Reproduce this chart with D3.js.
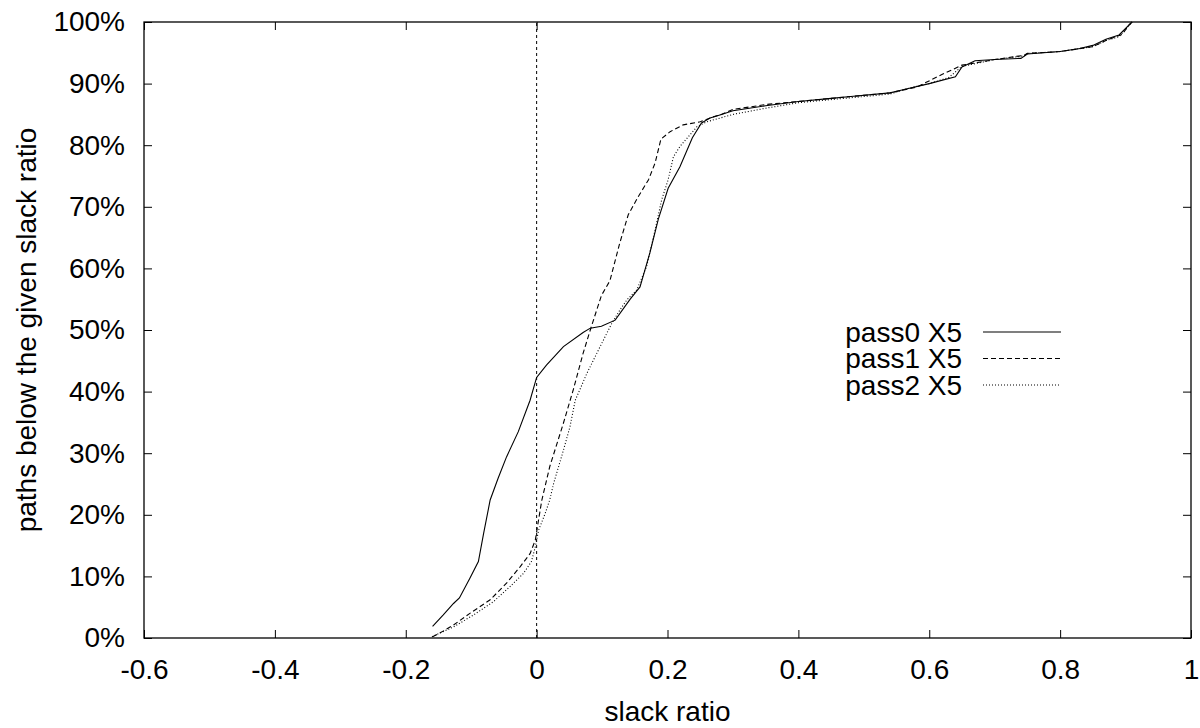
<!DOCTYPE html>
<html lang="en">
<head>
    <meta charset="UTF-8">
    <title>Slack ratio distribution</title>
    <script src="https://d3js.org/d3.v7.min.js"></script>
    <style>
        body {
            margin: 0;
            background: #fff;
            font-family: "Liberation Sans", Arial, sans-serif;
        }
        svg { display: block; }
    </style>
</head>
<body>
    <svg width="1200" height="728"></svg>

    <script>
        // [slack ratio, % of paths]
        const pass0 = [
            [-0.159, 1.9], [-0.143, 3.7], [-0.127, 5.6], [-0.118, 6.5], [-0.102, 9.7],
            [-0.089, 12.4], [-0.081, 17.0], [-0.071, 22.4], [-0.059, 25.9], [-0.046, 29.4],
            [-0.028, 33.5], [-0.010, 38.6], [0.0, 42.3], [0.015, 44.3], [0.041, 47.3],
            [0.071, 49.6], [0.082, 50.3], [0.099, 50.6], [0.12, 51.6], [0.143, 55.0],
            [0.158, 57.0], [0.173, 62.5], [0.186, 68.0], [0.201, 73.0], [0.219, 76.5],
            [0.238, 81.2], [0.252, 83.6], [0.265, 84.4], [0.28, 84.9], [0.30, 85.6],
            [0.35, 86.4], [0.40, 87.1], [0.45, 87.6], [0.48, 87.9], [0.54, 88.5],
            [0.56, 89.0], [0.60, 90.0], [0.64, 91.1], [0.65, 92.7], [0.67, 93.7],
            [0.70, 93.9], [0.74, 94.1], [0.75, 94.8], [0.80, 95.2], [0.83, 95.7],
            [0.85, 96.2], [0.87, 97.2], [0.89, 97.9], [0.91, 100]
        ];
        const pass1 = [
            [-0.159, 0.2], [-0.148, 0.8], [-0.127, 2.1], [-0.102, 4.0], [-0.071, 6.2],
            [-0.046, 8.9], [-0.025, 11.6], [-0.010, 13.7], [-0.002, 15.9], [0.003, 19.2],
            [0.008, 22.4], [0.02, 27.8], [0.041, 34.9], [0.056, 40.3], [0.071, 46.2],
            [0.082, 50.0], [0.099, 55.6], [0.112, 58.0], [0.127, 64.1], [0.14, 68.7],
            [0.155, 71.6], [0.171, 74.4], [0.181, 77.1], [0.19, 81.0], [0.204, 82.2],
            [0.224, 83.3], [0.25, 83.8], [0.27, 84.6], [0.28, 84.9], [0.30, 85.8],
            [0.35, 86.6], [0.40, 87.1], [0.48, 87.9], [0.54, 88.5], [0.58, 89.4],
            [0.62, 91.5], [0.65, 93.0], [0.70, 93.9], [0.745, 94.6], [0.75, 94.9],
            [0.80, 95.2], [0.85, 96.0], [0.87, 97.0], [0.895, 98.0], [0.905, 99.5],
            [0.91, 100]
        ];
        const pass2 = [
            [-0.160, 0.2], [-0.127, 1.8], [-0.097, 3.7], [-0.066, 5.9], [-0.041, 8.3],
            [-0.020, 10.5], [-0.008, 12.4], [-0.002, 14.8], [0.003, 17.5], [0.013, 20.2],
            [0.02, 22.4], [0.026, 25.1], [0.041, 30.5], [0.051, 34.3], [0.059, 38.6],
            [0.077, 43.0], [0.097, 47.3], [0.115, 51.1], [0.127, 53.2], [0.138, 54.9],
            [0.153, 56.5], [0.168, 60.3], [0.181, 66.2], [0.191, 71.1], [0.201, 74.4],
            [0.209, 78.1], [0.219, 79.8], [0.232, 81.4], [0.245, 83.0], [0.26, 83.8],
            [0.28, 84.4], [0.30, 85.0], [0.35, 86.0], [0.40, 86.9], [0.48, 87.7],
            [0.54, 88.3], [0.57, 89.3], [0.60, 90.0], [0.63, 91.0], [0.65, 92.8],
            [0.70, 93.9], [0.745, 94.5], [0.75, 94.9], [0.80, 95.2], [0.85, 96.0],
            [0.87, 97.0], [0.89, 97.6], [0.91, 100]
        ];

        const seriesNames = ["pass0 X5", "pass1 X5", "pass2 X5"];
        const seriesData = [pass0, pass1, pass2];
        const seriesDash = [null, "5,3", "1,2"];

        const xTicks = [-0.6, -0.4, -0.2, 0, 0.2, 0.4, 0.6, 0.8, 1];
        const yTicks = [0, 10, 20, 30, 40, 50, 60, 70, 80, 90, 100];

        const svg = d3.select("svg"),
            width = +svg.attr("width"),
            height = +svg.attr("height");

        const margin = { top: 22, right: 9, bottom: 90, left: 144 };
        const plotWidth = width - margin.left - margin.right;
        const plotHeight = height - margin.top - margin.bottom;
        const fontSize = 28;

        const x = d3.scaleLinear().domain([-0.6, 1]).range([0, plotWidth]);
        const y = d3.scaleLinear().domain([0, 100]).range([plotHeight, 0]);

        const g = svg.append("g")
            .attr("transform", `translate(${margin.left},${margin.top})`);

        const xFmt = d => String(+d.toFixed(1));

        // bottom axis with labels, ticks pointing inward
        const xAxis = g.append("g")
            .attr("transform", `translate(0,${plotHeight})`)
            .call(d3.axisBottom(x).tickValues(xTicks).tickFormat(xFmt).tickSize(-8).tickPadding(21));
        // top mirror
        const xTop = g.append("g")
            .call(d3.axisTop(x).tickValues(xTicks).tickFormat("").tickSize(-8));

        const yAxis = g.append("g")
            .call(d3.axisLeft(y).tickValues(yTicks).tickFormat(d => d + "%").tickSize(-8).tickPadding(19));
        const yRight = g.append("g")
            .attr("transform", `translate(${plotWidth},0)`)
            .call(d3.axisRight(y).tickValues(yTicks).tickFormat("").tickSize(-8));

        [xAxis, xTop, yAxis, yRight].forEach(a => {
            a.select(".domain").remove();
            a.selectAll(".tick line").attr("stroke", "#000");
            a.selectAll("text")
                .attr("font-family", "'Liberation Sans', Arial, sans-serif")
                .attr("font-size", fontSize)
                .attr("fill", "#000");
        });

        // frame
        g.append("rect")
            .attr("width", plotWidth)
            .attr("height", plotHeight)
            .attr("fill", "none")
            .attr("stroke", "#000")
            .attr("stroke-width", 1.3);

        // zero line
        g.append("line")
            .attr("x1", x(0)).attr("x2", x(0))
            .attr("y1", y(0)).attr("y2", y(100))
            .attr("stroke", "#000")
            .attr("stroke-width", 1)
            .attr("stroke-dasharray", "3,3");

        const line = d3.line()
            .x(d => x(d[0]))
            .y(d => y(d[1]));

        seriesData.forEach((s, i) => {
            g.append("path")
                .datum(s)
                .attr("d", line)
                .attr("fill", "none")
                .attr("stroke", "#000")
                .attr("stroke-width", 1.1)
                .attr("stroke-dasharray", seriesDash[i]);
        });

        // legend
        const legend = svg.append("g");
        seriesNames.forEach((name, i) => {
            const cy = 332 + i * 26.5;
            legend.append("text")
                .attr("x", 962)
                .attr("y", cy)
                .attr("dy", "0.35em")
                .attr("text-anchor", "end")
                .attr("font-size", fontSize)
                .text(name);
            legend.append("line")
                .attr("x1", 983).attr("x2", 1061)
                .attr("y1", cy).attr("y2", cy)
                .attr("stroke", "#000")
                .attr("stroke-width", 1.1)
                .attr("stroke-dasharray", seriesDash[i]);
        });

        // axis titles
        svg.append("text")
            .attr("x", margin.left + plotWidth / 2)
            .attr("y", 721)
            .attr("text-anchor", "middle")
            .attr("font-size", fontSize)
            .text("slack ratio");

        svg.append("text")
            .attr("transform", `translate(36,${margin.top + plotHeight / 2}) rotate(-90)`)
            .attr("text-anchor", "middle")
            .attr("font-size", fontSize)
            .text("paths below the given slack ratio");
    </script>
</body>
</html>
